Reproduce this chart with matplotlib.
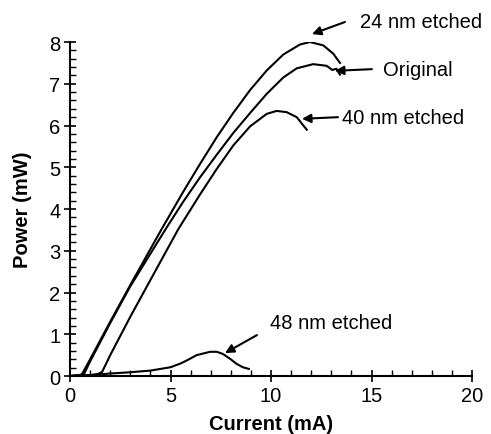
import matplotlib
matplotlib.use('Agg')
from matplotlib import pyplot as plt
from matplotlib.ticker import MultipleLocator

plt.rcParams['font.family'] = ['Liberation Sans', 'DejaVu Sans']

# light-current curves (current in mA, power in mW)
i_24nm = [0, 0.5, 0.6, 1, 2, 3, 4, 4.56, 5.64, 6.47, 7.30, 8.12, 8.96, 9.79, 10.61, 11.44, 11.94, 12.6, 13.1, 13.43]
p_24nm = [0, 0.02, 0.05, 0.4, 1.3, 2.18, 3.04, 3.52, 4.42, 5.08, 5.72, 6.3, 6.85, 7.32, 7.7, 7.94, 8.0, 7.92, 7.72, 7.5]

i_orig = [0, 0.5, 0.7, 1, 2, 3, 4, 4.89, 5.64, 6.47, 7.30, 8.12, 8.96, 9.79, 10.61, 11.28, 12.1, 12.77, 13.05, 13.25, 13.43]
p_orig = [0, 0.02, 0.05, 0.35, 1.27, 2.15, 2.93, 3.62, 4.18, 4.76, 5.3, 5.82, 6.3, 6.76, 7.15, 7.37, 7.47, 7.43, 7.33, 7.36, 7.22]

i_40nm = [0, 1.0, 1.4, 1.6, 2, 3, 4, 5.39, 6.47, 7.30, 8.12, 8.96, 9.79, 10.28, 10.78, 11.28, 11.61, 11.78]
p_40nm = [0, 0.02, 0.05, 0.1, 0.5, 1.42, 2.3, 3.52, 4.35, 4.96, 5.52, 5.98, 6.28, 6.35, 6.32, 6.2, 6.0, 5.9]

i_48nm = [0, 1, 2, 3, 4, 4.5, 5, 5.5, 5.8, 6.3, 6.97, 7.3, 7.6, 8.0, 8.29, 8.6, 8.9]
p_48nm = [0, 0.02, 0.06, 0.09, 0.13, 0.17, 0.21, 0.3, 0.37, 0.5, 0.58, 0.58, 0.53, 0.4, 0.29, 0.21, 0.17]

labels = ['24 nm etched', 'Original', '40 nm etched', '48 nm etched']
# (text x, text y, arrow tail, arrow head)
label_pos = [
    (14.43, 8.50, (13.68, 8.48), (12.04, 8.19)),
    (15.57, 7.35, (15.02, 7.35), (13.18, 7.31)),
    (13.53, 6.20, (13.33, 6.20), (11.54, 6.16)),
    (9.95, 1.29, (9.30, 0.98), (7.71, 0.55)),
]

fig = plt.figure(figsize=(4.91, 4.35), dpi=100)
ax = fig.add_axes([0.1426, 0.1333, 0.8187, 0.7678])

for i, p in [(i_24nm, p_24nm), (i_orig, p_orig), (i_40nm, p_40nm), (i_48nm, p_48nm)]:
    ax.plot(i, p, color='black', lw=1.5)

for text, (tx, ty, tail, head) in zip(labels, label_pos):
    ax.annotate('', xy=head, xytext=tail, annotation_clip=False,
                arrowprops=dict(arrowstyle='-|>', color='black', lw=1.5,
                                mutation_scale=13, shrinkA=0, shrinkB=0))
    ax.text(tx, ty, text, ha='left', va='center', fontsize=14.5, clip_on=False)

ax.set_xlim(0, 20)
ax.set_ylim(0, 8)
ax.xaxis.set_major_locator(MultipleLocator(5))
ax.xaxis.set_minor_locator(MultipleLocator(1))
ax.yaxis.set_major_locator(MultipleLocator(1))
ax.yaxis.set_minor_locator(MultipleLocator(0.2))
ax.tick_params(which='major', direction='inout', length=8, width=1.2, labelsize=14.5, pad=3)
ax.tick_params(which='minor', direction='in', length=4, width=1)
ax.spines['top'].set_visible(False)
ax.spines['right'].set_visible(False)
ax.spines['left'].set_linewidth(1.5)
ax.spines['bottom'].set_linewidth(1.5)

ax.set_xlabel('Current (mA)', fontsize=14.5, fontweight='bold', labelpad=7)
ax.set_ylabel('Power (mW)', fontsize=14.5, fontweight='bold', labelpad=12)

fig.savefig('out.png', dpi=100)
